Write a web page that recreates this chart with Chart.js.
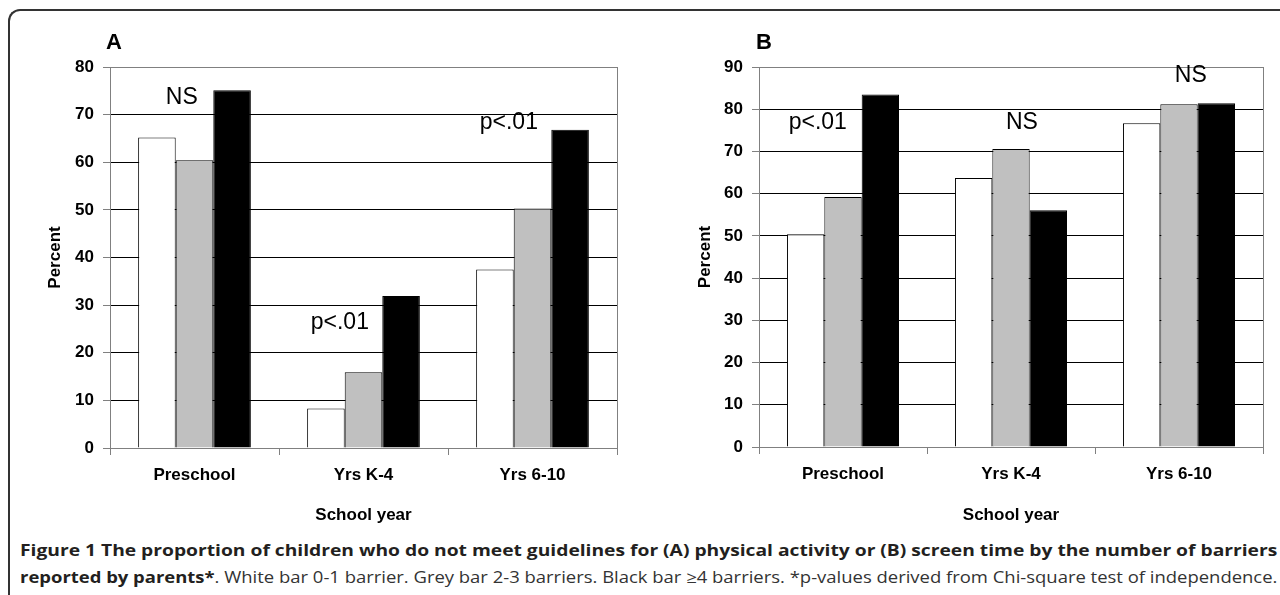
<!DOCTYPE html>
<html><head><meta charset="utf-8">
<script src="https://cdn.jsdelivr.net/npm/chart.js@4.4.1/dist/chart.umd.min.js"></script>
<style>
html,body{margin:0;padding:0;background:#fff}
body{width:1280px;height:595px;overflow:hidden;position:relative;font-family:"Liberation Sans",Arial,sans-serif}
#frame{position:absolute;left:8px;top:9px;width:1400px;height:700px;border-top:2px solid #333;border-left:2px solid #333;border-top-left-radius:12px;box-sizing:border-box}
.wrap{position:absolute;top:0;width:640px;height:530px}
.wrap canvas{display:block}
.letter{position:absolute;top:29px;font-weight:bold;font-size:22px;color:#000}
.cap{position:absolute;left:20px;white-space:nowrap;font-family:"Open Sans",sans-serif;color:#231f20;line-height:22px;font-size:16px;transform-origin:0 50%}
.cap b{font-weight:700}
.cap span{font-weight:400;color:#333}
</style></head>
<body>
<div id="frame"></div>
<div class="wrap" style="left:0"><canvas id="cA" width="640" height="530"></canvas></div>
<div class="wrap" style="left:640px"><canvas id="cB" width="640" height="530"></canvas></div>
<div class="letter" style="left:106px">A</div>
<div class="letter" style="left:756px">B</div>
<div class="cap" id="l1" style="top:539px"><b>Figure 1 The proportion of children who do not meet guidelines for (A) physical activity or (B) screen time by the number of barriers</b></div>
<div class="cap" id="l2" style="top:566px"><b>reported by parents*</b><span>. White bar 0-1 barrier. Grey bar 2-3 barriers. Black bar ≥4 barriers. *p-values derived from Chi-square test of independence.</span></div>
<script>
// ---- data ----
const categories = ['Preschool', 'Yrs K-4', 'Yrs 6-10'];
const seriesNames = ['0-1 barrier', '2-3 barriers', '≥4 barriers'];
const activityWhite = [65.2, 8.3, 37.5];
const activityGrey  = [60.4, 15.9, 50.3];
const activityBlack = [75.1, 31.9, 66.8];
const screenWhite = [50.4, 63.7, 76.7];
const screenGrey  = [59.2, 70.6, 81.2];
const screenBlack = [83.5, 56.1, 81.4];
const activityMax = 80;
const screenMax = 90;
const tickStep = 10;
const activityNotes = ['NS', 'p<.01', 'p<.01'];
const screenNotes = ['p<.01', 'NS', 'NS'];
const yTitle = 'Percent';
const xTitle = 'School year';

// ---- styles / layout ----
const barColors = ['#ffffff', '#c0c0c0', '#000000'];
const noteAnchorsA = [{dx:-0.075, v:73.5}, {dx:-0.14, v:26.3}, {dx:-0.14, v:68.3}];
const noteAnchorsB = [{dx:-0.15, v:76.9}, {dx:0.065, v:76.9}, {dx:0.07, v:88}];
const FONT = '"Liberation Sans", Arial, sans-serif';

const notesPlugin = {
  id: 'notes',
  afterDatasetsDraw(chart, args, opts) {
    const {ctx, scales:{x, y}} = chart;
    const w = (x.right - x.left) / categories.length;
    ctx.save();
    ctx.font = '23px ' + FONT;
    ctx.fillStyle = '#000';
    ctx.textAlign = 'center';
    ctx.textBaseline = 'middle';
    opts.texts.forEach((t, i) => {
      const a = opts.anchors[i];
      ctx.fillText(t, x.getPixelForValue(i) + a.dx * w, y.getPixelForValue(a.v));
    });
    ctx.restore();
  }
};

function makeChart(id, series, max, notes, anchors, geo) {
  return new Chart(document.getElementById(id), {
    type: 'bar',
    data: {
      labels: categories,
      datasets: series.map((d, i) => ({
        label: seriesNames[i], data: d,
        backgroundColor: barColors[i], borderColor: '#000', borderWidth: 1,
        categoryPercentage: 0.667, barPercentage: 1.0
      }))
    },
    plugins: [notesPlugin],
    options: {
      responsive: false, animation: false, devicePixelRatio: 1,
      layout: {padding: {left: 0, top: geo.top, right: geo.right, bottom: 0}},
      plugins: {legend: {display: false}, tooltip: {enabled: false}, notes: {texts: notes, anchors: anchors}},
      scales: {
        x: {
          afterFit(s) { s.height = geo.xh; },
          grid: {offset: true, drawOnChartArea: true, tickLength: 7, tickColor: '#808080',
                 color: c => c.type === 'scale' ? '#808080' : 'rgba(0,0,0,0)', lineWidth: 1},
          border: {display: true, color: '#808080', width: 1},
          ticks: {color: '#000', font: {family: FONT, size: 17, weight: 'bold'}, padding: 10, maxRotation: 0},
          title: {display: true, text: xTitle, color: '#000', font: {family: FONT, size: 17, weight: 'bold'}, padding: {top: 0, bottom: 4}}
        },
        y: {
          min: 0, max: max,
          afterFit(s) { s.width = geo.yw; },
          ticks: {stepSize: tickStep, color: '#000', font: {family: FONT, size: 17, weight: 'bold'}, padding: 9},
          grid: {tickLength: 7, tickColor: '#808080', lineWidth: 1,
                 color: c => (c.tick && c.tick.value === max) ? '#808080' : '#000'},
          border: {display: true, color: '#808080', width: 1},
          title: {display: true, text: yTitle, color: '#000', font: {family: FONT, size: 17, weight: 'bold'}, padding: {top: geo.tp, bottom: 0}}
        }
      }
    }
  });
}

function justify() {
  const target = 1257;
  ['l1', 'l2'].forEach(id => {
    const el = document.getElementById(id);
    el.style.transform = 'none';
    const w = el.offsetWidth;
    el.style.transform = 'scaleX(' + (target / w) + ')';
  });
}

function build() {
  makeChart('cA', [activityWhite, activityGrey, activityBlack], activityMax, activityNotes, noteAnchorsA,
            {top: 67, right: 23, xh: 82, yw: 110, tp: 45});
  makeChart('cB', [screenWhite, screenGrey, screenBlack], screenMax, screenNotes, noteAnchorsB,
            {top: 67, right: 17, xh: 83, yw: 119, tp: 55});
  justify();
}

Promise.all([
  document.fonts.load('700 16px "Open Sans"'),
  document.fonts.load('400 16px "Open Sans"'),
  document.fonts.load('700 17px "Liberation Sans"'),
  document.fonts.load('400 23px "Liberation Sans"')
]).then(build, build);
</script>
</body></html>
